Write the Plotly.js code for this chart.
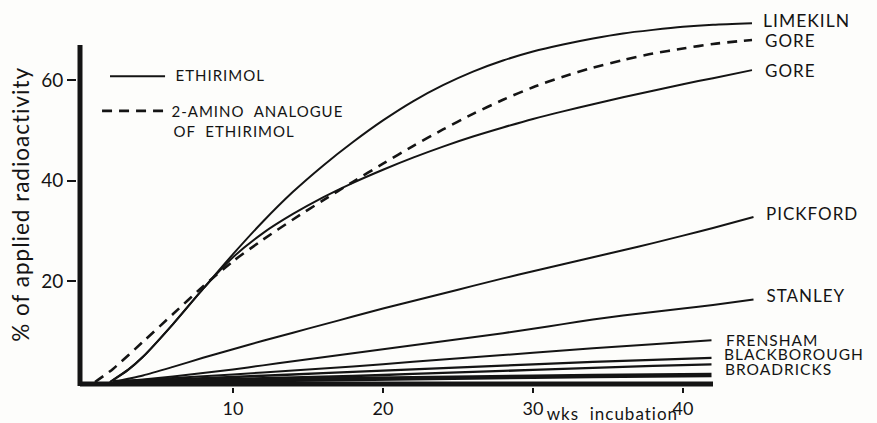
<!DOCTYPE html>
<html>
<head>
<meta charset="utf-8">
<script src="https://cdn.plot.ly/plotly-3.0.1.min.js"></script>
<style>
  html, body { margin: 0; padding: 0; background: #fdfdfb; }
  #chart { width: 877px; height: 423px; }
  #chart .annotation-text { letter-spacing: 1px; }
</style>
</head>
<body>
<div id="chart"></div>
<script>
// Release of radioactivity (% of applied) against weeks of incubation, by soil.
const limekilnWeeks = [1.8, 3, 4, 6, 8, 10, 12, 14, 16, 18, 20, 22, 24, 26, 28, 30, 32, 34, 36, 38, 40, 42, 44.6];
const limekilnPct   = [0, 2.4, 5, 11.5, 18.5, 25.4, 31.9, 37.8, 43, 47.7, 52, 55.8, 59, 61.7, 63.9, 65.7, 67.1, 68.3, 69.3, 70, 70.6, 71, 71.3];

const goreWeeks = [1.8, 3, 4, 6, 8, 10, 12, 14, 16, 18, 20, 22, 24, 26, 28, 30, 32, 34, 36, 38, 40, 42, 44.6];
const gorePct   = [0, 2.4, 5, 11.5, 18.5, 24.8, 29.6, 33.4, 36.7, 39.6, 42.2, 44.6, 46.8, 48.8, 50.6, 52.3, 53.8, 55.2, 56.6, 57.9, 59.2, 60.4, 62];

// 2-amino analogue of ethirimol, Gore soil
const goreAminoWeeks = [0.8, 2, 4, 6, 8, 10, 12, 14, 16, 18, 20, 22, 24, 26, 28, 30, 32, 34, 36, 38, 40, 42, 44.6];
const goreAminoPct   = [0, 2.6, 8, 13.5, 19, 24, 28.3, 32.3, 36.1, 39.8, 43.4, 46.9, 50.2, 53.3, 56.1, 58.6, 60.7, 62.5, 64, 65.3, 66.3, 67.2, 68];

const pickfordWeeks = [2, 4, 6, 8, 10, 12, 14, 16, 18, 20, 22, 24, 26, 28, 30, 32, 34, 36, 38, 40, 42, 44.7];
const pickfordPct   = [0, 1.3, 3, 4.8, 6.5, 8.2, 9.8, 11.4, 13, 14.6, 16.1, 17.6, 19.1, 20.6, 22, 23.4, 24.8, 26.2, 27.6, 29.1, 30.6, 32.8];

const stanleyWeeks = [2, 4, 6, 8, 10, 12, 14, 16, 18, 20, 22, 24, 26, 28, 30, 32, 34, 36, 38, 40, 42, 44.7];
const stanleyPct   = [0, 0.5, 1.1, 1.8, 2.5, 3.3, 4.1, 4.9, 5.7, 6.5, 7.3, 8.1, 8.9, 9.7, 10.6, 11.5, 12.4, 13.2, 13.9, 14.6, 15.3, 16.4];

const frenshamWeeks = [2, 6, 10, 14, 18, 22, 26, 30, 34, 38, 41.9];
const frenshamPct   = [0, 0.8, 1.5, 2.3, 3.1, 4.0, 4.9, 5.8, 6.7, 7.5, 8.3];

const blackboroughWeeks = [2, 6, 10, 14, 18, 22, 26, 30, 34, 38, 41.9];
const blackboroughPct   = [0, 0.5, 1.0, 1.5, 2.0, 2.5, 3.0, 3.5, 4.0, 4.4, 4.8];

const blackboroughBWeeks = [2, 6, 10, 14, 18, 22, 26, 30, 34, 38, 41.9];
const blackboroughBPct   = [0, 0.3, 0.6, 0.9, 1.2, 1.6, 2.0, 2.4, 2.8, 3.2, 3.5];

const broadricksWeeks = [2, 10, 18, 26, 34, 41.9];
const broadricksPct   = [0, 0.3, 0.6, 0.9, 1.2, 1.4];

const xTicks = [10, 20, 30, 40];
const yTicks = [20, 40, 60];

const INK = '#141414';
const FONT = 'Lato, "DejaVu Sans", sans-serif';

// plot scale: 15 px per week, 5.03 px per percent
const X_MIN = -0.4, X_MAX = 50;
const Y_MIN = -1.0, Y_MAX = 75.94;

function curve(x, y, opts) {
  return {
    type: 'scatter', mode: 'lines', x: x, y: y,
    line: Object.assign({ color: INK, width: 2, shape: 'spline', smoothing: 0.7 }, opts || {}),
    hoverinfo: 'skip', showlegend: false
  };
}

const traces = [
  curve(limekilnWeeks, limekilnPct),
  curve(goreWeeks, gorePct),
  curve(goreAminoWeeks, goreAminoPct, { dash: '10px,7px', width: 2.6 }),
  curve(pickfordWeeks, pickfordPct),
  curve(stanleyWeeks, stanleyPct),
  curve(frenshamWeeks, frenshamPct),
  curve(blackboroughWeeks, blackboroughPct, { width: 2.4 }),
  curve(blackboroughBWeeks, blackboroughBPct, { width: 2.4 }),
  curve(broadricksWeeks, broadricksPct, { width: 4.5 })
];

function label(text, x, y, size, xref, yref) {
  return { text: text, x: x, y: y, xref: xref || 'x', yref: yref || 'y', xanchor: 'left', yanchor: 'middle',
           showarrow: false, font: { family: FONT, size: size, color: INK } };
}

const annotations = [
  // soil names at the curve ends
  label('LIMEKILN', 45.45, 71.8, 17.5),
  label('GORE', 45.45, 67.9, 17),
  label('GORE', 45.45, 61.9, 17),
  label('PICKFORD', 45.65, 33.5, 17),
  label('STANLEY', 45.65, 17.1, 17),
  label('FRENSHAM', 43.0, 8.3, 15.5),
  label('BLACKBOROUGH', 43.0, 5.5, 15.5),
  label('BROADRICKS', 43.0, 2.6, 15.5),
  // key
  label('ETHIRIMOL', 6.33, 61.0, 15),
  label('2-AMINO  ANALOGUE', 6.33, 53.9, 15),
  label('OF  ETHIRIMOL', 6.33, 49.8, 15),
  // axis titles
  { text: 'wks  incubation', x: 0.708, y: -0.0672, xref: 'paper', yref: 'paper', xanchor: 'center', yanchor: 'middle',
    showarrow: false, font: { family: FONT, size: 17, color: INK } },
  { text: '% of applied radioactivity', x: -0.0741, y: 0.473, xref: 'paper', yref: 'paper', textangle: -90,
    xanchor: 'center', yanchor: 'middle', showarrow: false, font: { family: FONT, size: 22.5, color: INK } }
];

const shapes = [
  // axis lines
  { type: 'line', xref: 'x', yref: 'y', x0: -0.2, x1: 42, y0: -0.4, y1: -0.4, line: { color: INK, width: 5 }, layer: 'above' },
  { type: 'line', xref: 'x', yref: 'y', x0: -0.2, x1: -0.2, y0: -0.8, y1: 67, line: { color: INK, width: 5 }, layer: 'above' },
  // key samples
  { type: 'line', xref: 'x', yref: 'y', x0: 1.8, x1: 5.47, y0: 60.8, y1: 60.8, line: { color: INK, width: 2 } },
  { type: 'line', xref: 'x', yref: 'y', x0: 1.27, x1: 5.67, y0: 53.9, y1: 53.9,
    line: { color: INK, width: 2.6, dash: '10px,7px' } }
];

const layout = {
  width: 877, height: 423,
  margin: { l: 77, r: 44, t: 0, b: 36 },
  paper_bgcolor: '#fdfdfb', plot_bgcolor: '#fdfdfb',
  showlegend: false,
  font: { family: FONT, color: INK },
  xaxis: {
    range: [X_MIN, X_MAX], tickvals: xTicks, ticktext: xTicks.map(String),
    ticks: 'outside', ticklen: 5, tickwidth: 2, tickcolor: INK,
    showgrid: false, zeroline: false, showline: false,
    tickfont: { family: FONT, size: 18, color: INK }
  },
  yaxis: {
    range: [Y_MIN, Y_MAX], tickvals: yTicks, ticktext: yTicks.map(String),
    ticks: 'outside', ticklen: 9, tickwidth: 2, tickcolor: INK,
    showgrid: false, zeroline: false, showline: false,
    tickfont: { family: FONT, size: 19, color: INK }
  },
  annotations: annotations,
  shapes: shapes
};

Plotly.newPlot('chart', traces, layout, { staticPlot: true, displayModeBar: false });
</script>
</body>
</html>
